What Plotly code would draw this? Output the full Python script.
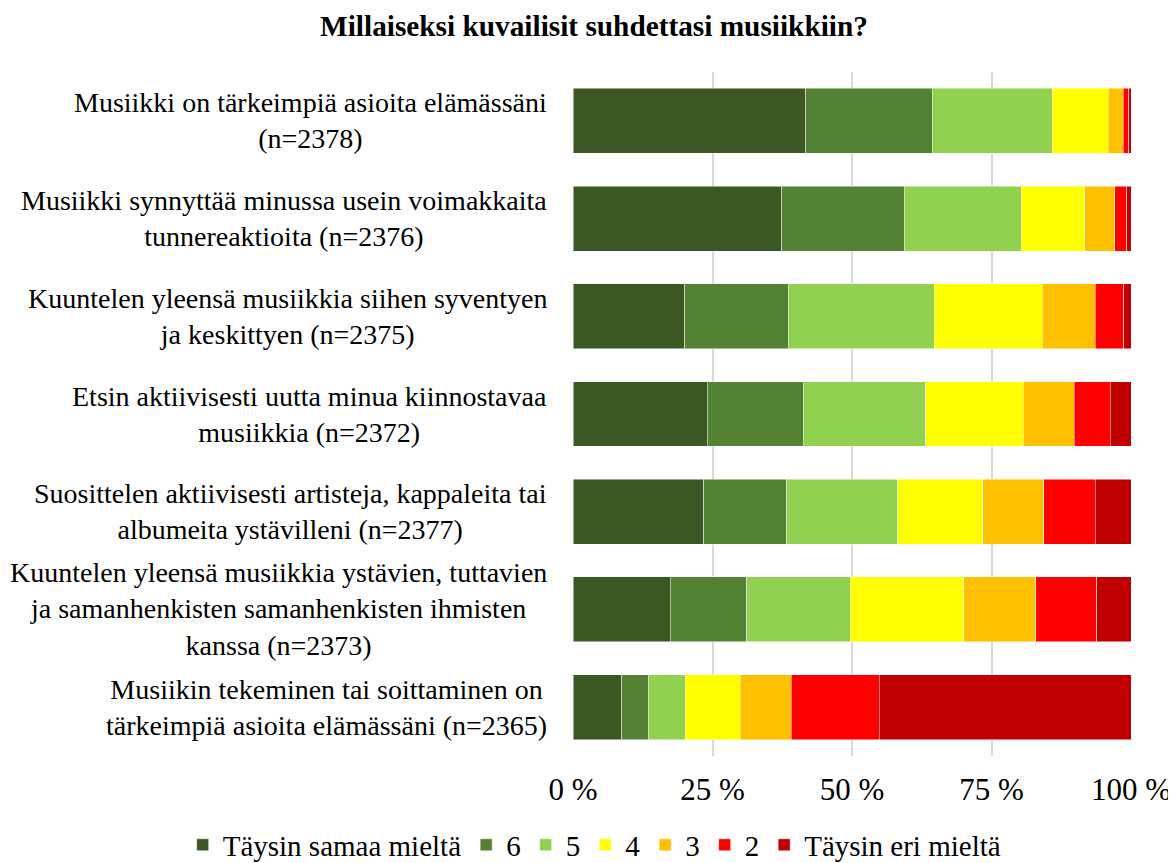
import plotly.graph_objects as go

categories = [
    "Musiikki on tärkeimpiä asioita elämässäni<br>(n=2378)",
    "Musiikki synnyttää minussa usein voimakkaita<br>tunnereaktioita (n=2376)",
    "Kuuntelen yleensä musiikkia siihen syventyen<br>ja keskittyen (n=2375)",
    "Etsin aktiivisesti uutta minua kiinnostavaa<br>musiikkia (n=2372)",
    "Suosittelen aktiivisesti artisteja, kappaleita tai<br>albumeita ystävilleni (n=2377)",
    "Kuuntelen yleensä musiikkia ystävien, tuttavien<br>ja samanhenkisten samanhenkisten ihmisten<br>kanssa (n=2373)",
    "Musiikin tekeminen tai soittaminen on<br>tärkeimpiä asioita elämässäni (n=2365)",
]

series_names = ["Täysin samaa mieltä", "6", "5", "4", "3", "2", "Täysin eri mieltä"]

values_7 = [41.7, 37.4, 20.0, 24.1, 23.4, 17.4, 8.7]
values_6 = [22.7, 22.0, 18.6, 17.2, 14.9, 13.7, 4.9]
values_5 = [21.5, 20.9, 26.1, 21.9, 19.9, 18.6, 6.5]
values_4 = [10.0, 11.4, 19.4, 17.5, 15.2, 20.3, 9.9]
values_3 = [2.7, 5.4, 9.5, 9.1, 11.0, 12.9, 9.1]
values_2 = [1.0, 2.1, 5.1, 6.5, 9.2, 11.0, 15.8]
values_1 = [0.4, 0.8, 1.3, 3.7, 6.4, 6.1, 45.1]

series_values = [values_7, values_6, values_5, values_4, values_3, values_2, values_1]
colors = ["#3A5724", "#548235", "#92D050", "#FFFF00", "#FFC000", "#FF0000", "#C00000"]

tick_vals = [0, 25, 50, 75, 100]
tick_text = ["0 %", "25 %", "50 %", "75 %", "100 %"]

FONT = "Liberation Serif"

fig = go.Figure()
for name, vals, col in zip(series_names, series_values, colors):
    fig.add_trace(go.Bar(
        y=categories, x=vals, name=name, orientation="h",
        marker=dict(color=col, line=dict(color="rgba(255,255,255,0.6)", width=0.8)),
        hoverinfo="x+name",
    ))

for cat in categories:
    fig.add_annotation(
        x=-0.043, xref="paper", y=cat, yref="y", text=cat,
        xanchor="right", yanchor="middle", align="center", showarrow=False,
        font=dict(family=FONT, size=28, color="black"),
    )

fig.update_layout(
    barmode="stack",
    bargap=0.335,
    width=1168, height=855,
    margin=dict(l=565, r=45, t=64, b=107, autoexpand=False),
    paper_bgcolor="white", plot_bgcolor="white",
    font=dict(family=FONT, color="black"),
    title=dict(
        text="<b>Millaiseksi kuvailisit suhdettasi musiikkiin?</b>",
        x=0.5017, xanchor="center", y=0.979, yanchor="middle",
        font=dict(family=FONT, size=29.3, color="black"),
    ),
    xaxis=dict(
        range=[0, 100], tickvals=tick_vals, ticktext=tick_text,
        showgrid=True, gridcolor="#D9D9D9", gridwidth=1.5,
        zeroline=False, showline=False, ticks="",
        tickfont=dict(family=FONT, size=31, color="black"),
        ticklabelstandoff=12,
        fixedrange=True,
    ),
    yaxis=dict(
        categoryorder="array", categoryarray=categories[::-1],
        showticklabels=False, showgrid=False, zeroline=False, showline=False,
    ),
    legend=dict(
        orientation="h", x=-0.6995, xanchor="left",
        y=-0.13, yanchor="middle",
        font=dict(family=FONT, size=29, color="black"),
        traceorder="normal",
    ),
    showlegend=True,
)

fig.write_html("out.html")
